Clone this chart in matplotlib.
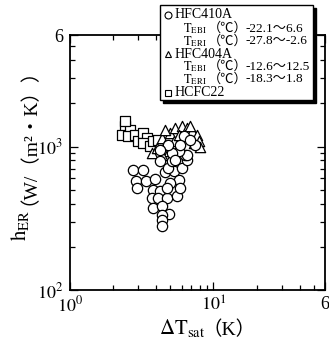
import matplotlib
matplotlib.use("Agg")
import matplotlib.pyplot as plt
from matplotlib.lines import Line2D
from matplotlib.patches import Rectangle
from matplotlib.ticker import FixedLocator, NullFormatter

plt.rcParams['font.family'] = ['Liberation Serif', 'Noto Sans CJK JP', 'DejaVu Sans']
plt.rcParams['mathtext.fontset'] = 'stix'

# ---- data ----
r410_dT = [2.75, 3.22, 2.89, 3.40, 2.95, 3.93, 3.82, 4.26, 3.72, 4.14, 4.74, 5.57,
           3.82, 4.38, 4.87, 4.38, 4.38, 4.38, 4.62, 5.28, 5.72, 5.00, 5.88, 4.74,
           4.84, 6.03, 6.55, 6.37, 5.13, 4.26, 6.2, 6.55, 5.72, 5.13, 7.48, 5.42,
           5.88, 6.91, 4.84, 4.26]
r410_h = [690, 690, 574, 574, 513, 597, 500, 487, 440, 440, 440, 450,
          375, 388, 338, 335, 309, 278, 660, 672, 588, 560, 515, 515,
          711, 711, 811, 879, 790, 790, 1180, 879, 925, 900, 1033, 811,
          1033, 1119, 1033, 953]

r404_dT = [3.72, 4.04, 4.38, 4.62, 5.0, 5.42, 6.03, 6.55, 7.1, 7.7, 7.9, 7.3,
           5.28, 4.87, 5.72, 4.38, 6.37, 8.1, 6.9, 4.62]
r404_h = [900, 980, 1150, 1033, 1250, 1350, 1390, 1350, 1280, 1213, 1090, 1060,
          1090, 925, 1213, 879, 1213, 1000, 1400, 1300]

r22_dT = [2.43, 2.30, 2.63, 2.55, 2.85, 3.0, 3.25, 3.44, 3.25, 3.63, 3.82, 4.14, 2.43]
r22_h = [1390, 1213, 1315, 1180, 1213, 1090, 1250, 1150, 1060, 1010, 1090, 1119, 1500]

x_ticks = [1, 10, 60]
x_ticklabels = ['$10^0$', '$10^1$', '6']
y_ticks = [100, 1000, 6000]
y_ticklabels = ['$10^2$', '$10^3$', '6']
x_minor = [2, 3, 4, 5, 6, 7, 8, 9, 20, 30, 40, 50]
y_minor = [200, 300, 400, 500, 600, 700, 800, 900, 2000, 3000, 4000, 5000]

legend_names = ['HFC410A', 'HFC404A', 'HCFC22']
legend_rows_410 = [('EBI', '-22.1～6.6'), ('ERI', '-27.8～-2.6')]
legend_rows_404 = [('EBI', '-12.6～12.5'), ('ERI', '-18.3～1.8')]

W, H = 329, 339
fig = plt.figure(figsize=(W / 100, H / 100), dpi=100)
ax = fig.add_axes([70 / W, 1 - 290 / H, 255 / W, 255 / H])

ax.set_xscale('log')
ax.set_yscale('log')
ax.set_xlim(1, 60)
ax.set_ylim(100, 6000)

mk = dict(facecolors='white', edgecolors='black', linewidths=0.9)
ax.scatter(r22_dT, r22_h, marker='s', s=48, **mk, zorder=3)
ax.scatter(r404_dT, r404_h, marker='^', s=55, **mk, zorder=4)
ax.scatter(r410_dT, r410_h, marker='o', s=55, **mk, zorder=5)

ax.xaxis.set_major_locator(FixedLocator(x_ticks))
ax.xaxis.set_minor_locator(FixedLocator(x_minor))
ax.yaxis.set_major_locator(FixedLocator(y_ticks))
ax.yaxis.set_minor_locator(FixedLocator(y_minor))
ax.set_xticklabels(x_ticklabels)
ax.set_yticklabels(y_ticklabels)
ax.xaxis.set_minor_formatter(NullFormatter())
ax.yaxis.set_minor_formatter(NullFormatter())
ax.tick_params(which='both', direction='in', top=True, right=True, width=0.9, labelsize=13)
ax.tick_params(which='major', length=6)
ax.tick_params(which='minor', length=3.5)
ax.tick_params(axis='x', pad=4)
ax.tick_params(axis='y', pad=5)
for s in ax.spines.values():
    s.set_linewidth(1.3)

def fx(px):
    return px / W

def fy(py):
    return 1 - py / H

cjk = ['Liberation Serif', 'Noto Sans CJK JP', 'DejaVu Sans']

# axis labels (split into math part + CJK part)
fig.text(fx(20), fy(241), r'$\mathrm{h_{ER}}$', rotation=90, ha='center', va='bottom', fontsize=15)
fig.text(fx(19), fy(205), '（W/（m²・K））', rotation=90, ha='center', va='bottom', fontsize=14, family=cjk)
fig.text(fx(182), fy(339), r'$\Delta\mathrm{T_{sat}}$', ha='center', va='bottom', fontsize=15)
fig.text(fx(229), fy(339), '（K）', ha='center', va='bottom', fontsize=14, family=cjk)

# legend box with shadow
fig.add_artist(Rectangle((fx(163), fy(103)), fx(316) - fx(163), fy(8) - fy(103),
                         transform=fig.transFigure, facecolor='black', edgecolor='black', zorder=10))
fig.add_artist(Rectangle((fx(160), fy(100)), fx(313) - fx(160), fy(5) - fy(100),
                         transform=fig.transFigure, facecolor='white', edgecolor='black',
                         linewidth=1.0, zorder=11))

markers = ['o', '^', 's']
name_y = [15, 54, 93]
for m, nm, yy in zip(markers, legend_names, name_y):
    fig.add_artist(Line2D([fx(168)], [fy(yy)], marker=m, markersize=5 if m != 's' else 4.5,
                          markerfacecolor='white', markeredgecolor='black', markeredgewidth=0.8,
                          linestyle='none', transform=fig.transFigure, zorder=12))
    fig.text(fx(175), fy(yy), nm, ha='left', va='center', fontsize=10, zorder=12)

for rows, ys in ((legend_rows_410, [28.5, 41.5]), (legend_rows_404, [66.5, 79.5])):
    for (sub, val), yy in zip(rows, ys):
        fig.text(fx(183), fy(yy), r'$\mathrm{T_{' + sub + '}}$', ha='left', va='center', fontsize=9, zorder=12)
        fig.text(fx(208), fy(yy), '（℃）', ha='left', va='center', fontsize=9.5, family=cjk, zorder=12)
        fig.text(fx(245), fy(yy), val, ha='left', va='center', fontsize=9.5, family=cjk, zorder=12)

fig.savefig('out.png', dpi=100)
